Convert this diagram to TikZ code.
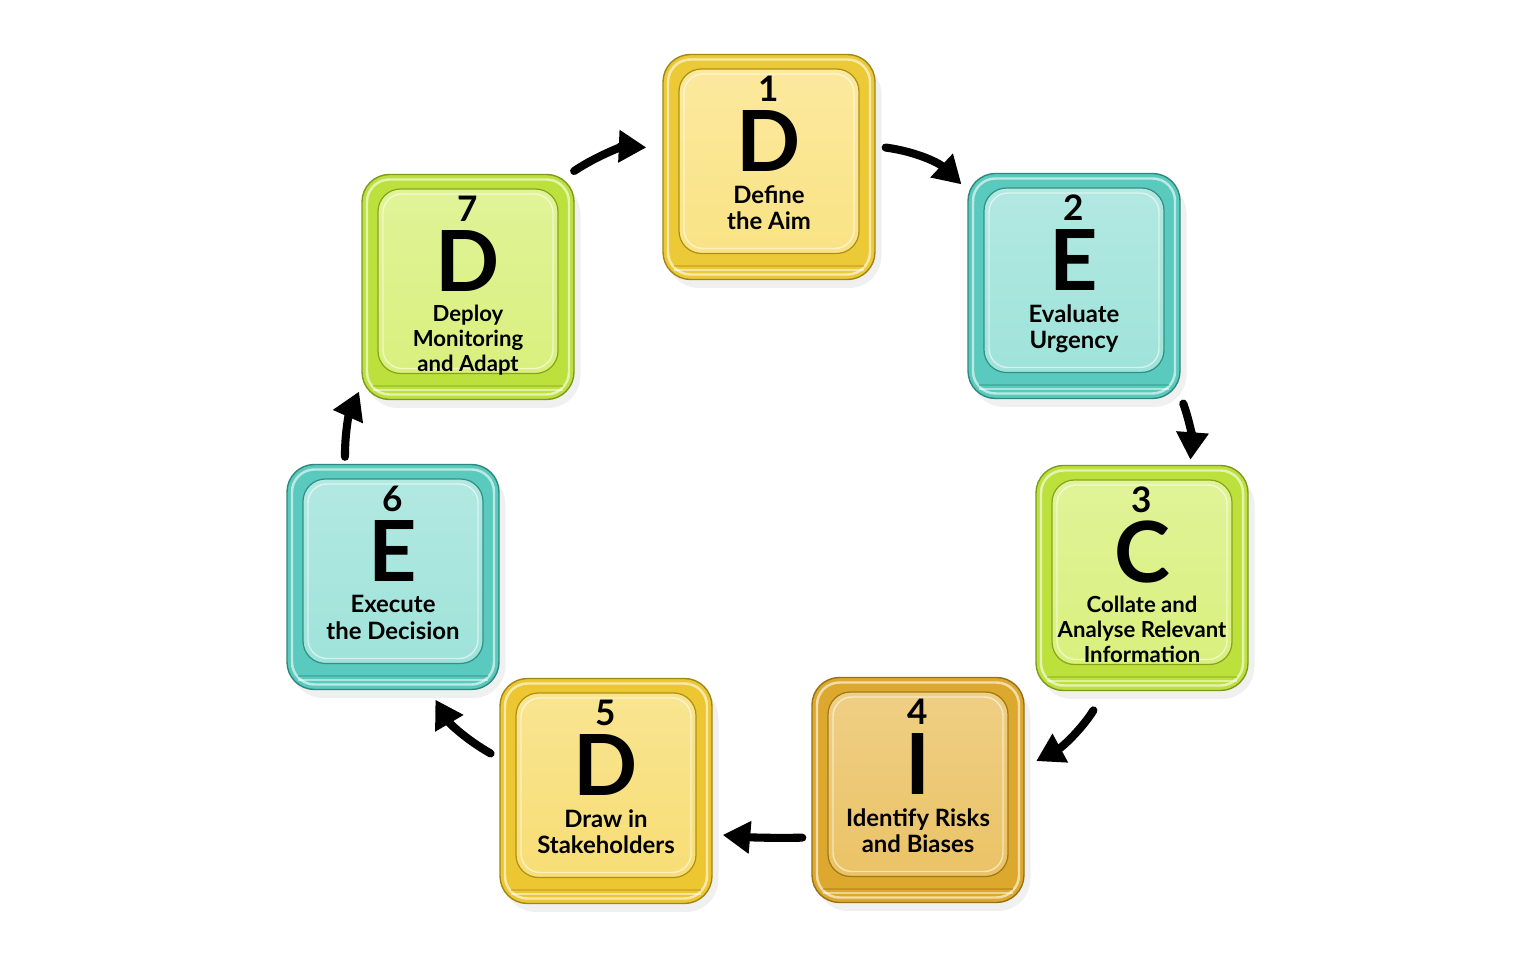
\documentclass[tikz,border=0pt]{standalone}
\usepackage{fontspec}
\setmainfont{Lato}
\usetikzlibrary{arrows.meta,positioning}

\definecolor{yelface}{HTML}{FAE385}
\definecolor{yelrim}{HTML}{E8C01C}
\definecolor{tealface}{HTML}{9FE3DA}
\definecolor{tealrim}{HTML}{42C2B3}
\definecolor{limeface}{HTML}{D9F07E}
\definecolor{limerim}{HTML}{B3DC26}
\definecolor{goldface}{HTML}{EBC366}
\definecolor{goldrim}{HTML}{D7A01C}

\tikzset{
  slab/.style={rectangle, rounded corners=0.55cm, minimum width=4.24cm, minimum height=4.5cm, inner sep=0pt},
  num/.style={anchor=base, inner sep=0pt, font=\fontsize{20}{20}\selectfont\bfseries},
  big/.style={anchor=base, inner sep=0pt, font=\fontsize{48}{48}\selectfont\bfseries},
  lab/.style={anchor=north, inner sep=0pt, align=center},
  flow/.style={line width=4.6pt, line cap=round, -{Triangle[length=5.5mm,width=6.2mm]}},
}

% name, position, face, rim, number, letter, label, label font
\newcommand{\gtile}[8]{%
  \begin{scope}[shift={#2}]
    \fill[black, opacity=0.06, rounded corners=0.65cm] (-2.05,-2.42) rectangle (2.25,2.1); %shadow
    \node[slab, fill=#4!75!#3, draw=#4!70!black, line width=0.8pt] (#1) at (0,0) {};
    \draw[white, opacity=0.6, line width=1.4pt, rounded corners=0.45cm] (-2.02,-2.15) rectangle (2.02,2.15);
    \draw[#4!80!black, opacity=0.5, line width=0.8pt, rounded corners=0.3cm] (-1.9,-1.98) -- (1.9,-1.98);
    \draw[white, opacity=0.5, line width=1pt, rounded corners=0.3cm] (-1.9,-2.06) -- (1.9,-2.06);
    \shade[top color=#3!80!white, bottom color=#3, draw=#4!75!black, line width=0.7pt, rounded corners=0.45cm] (-1.8,-1.73) rectangle (1.8,1.96); %face
    \draw[white, opacity=0.55, line width=0.8pt, rounded corners=0.38cm] (-1.7,-1.63) rectangle (1.7,1.86);
    \node[num] (#1n) at (0,1.30) {#5};
    \node[big] (#1l) at (0,-0.10) {#6};
    \node[lab, font=#8] (#1t) at (0,-0.36) {#7};
  \end{scope}}

\begin{document}
\begin{tikzpicture}
\useasboundingbox (0,0) rectangle (30.72,19.18);
\fill[white] (0,0) rectangle (30.72,19.18);

\gtile{b1}{(15.38,15.84)}{yelface}{yelrim}{1}{D}{Define\\the Aim}{\fontsize{13.6}{15.2}\selectfont\bfseries}
\gtile{b2}{(21.48,13.46)}{tealface}{tealrim}{2}{E}{Evaluate\\Urgency}{\fontsize{13.6}{15.2}\selectfont\bfseries}
\gtile{b3}{(22.84,7.62)}{limeface}{limerim}{3}{C}{Collate and\\Analyse Relevant\\Information}{\fontsize{12.6}{14.2}\selectfont\bfseries}
\gtile{b4}{(18.36,3.38)}{goldface}{goldrim}{4}{I}{Identify Risks\\and Biases}{\fontsize{13.6}{15.2}\selectfont\bfseries}
\gtile{b5}{(12.12,3.36)}{yelface!85!yelrim}{yelrim}{5}{D}{Draw in\\Stakeholders}{\fontsize{13.6}{15.2}\selectfont\bfseries}
\gtile{b6}{(7.86,7.64)}{tealface}{tealrim}{6}{E}{Execute\\the Decision}{\fontsize{13.6}{15.2}\selectfont\bfseries}
\gtile{b7}{(9.36,13.44)}{limeface}{limerim}{7}{D}{Deploy\\Monitoring\\and Adapt}{\fontsize{12.6}{14.2}\selectfont\bfseries}

% cycle arrows
\draw[flow, shorten <=0.2cm, shorten >=0.16cm] (b1.11) to[bend left=18] (b2.138);
\draw[flow, shorten <=0.15cm, shorten >=0.1cm] (b2.314) to[bend left=12] (b3.67);
\draw[flow, shorten <=0.45cm, shorten >=0.26cm] (b3.252) to[bend left=15] (b4.12);
\draw[flow, shorten <=0.18cm, shorten >=0.2cm] (b4.204) to[bend left=3] (b5.338);
\draw[flow, shorten <=0.2cm, shorten >=0.22cm] (b5.163) to[bend left=15] (b6.288);
\draw[flow, shorten <=0.14cm, shorten >=0.11cm] (b6.113) to[bend left=12] (b7.223);
\draw[flow, shorten <=0.1cm, shorten >=0.32cm] (b7.48) to[bend left=18] (b1.170);
\end{tikzpicture}
\end{document}
